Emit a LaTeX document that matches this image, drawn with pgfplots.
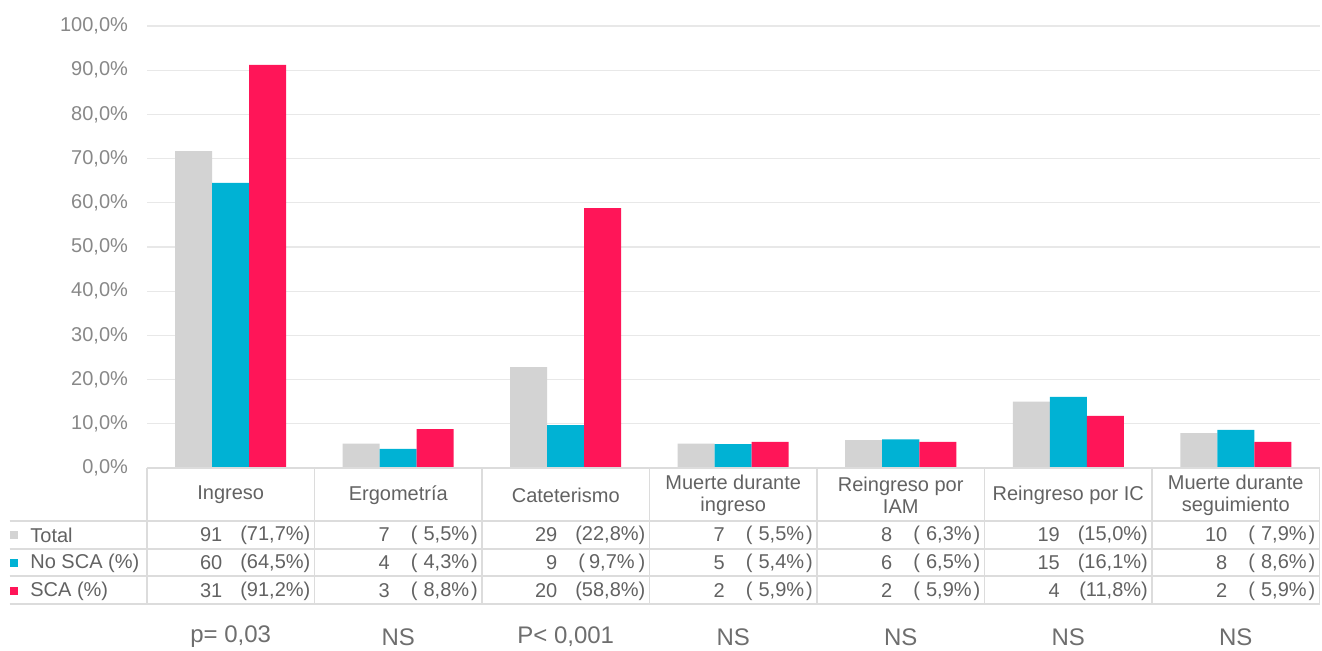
\documentclass[border=0pt]{standalone}
\usepackage{pgfplots}
\pgfplotsset{compat=1.18}
\usepackage{fontspec}
\setmainfont{Liberation Sans}
\definecolor{cgray}{HTML}{D3D3D3}
\definecolor{ccyan}{HTML}{00B2D4}
\definecolor{cred}{HTML}{FF1558}
\definecolor{gridc}{HTML}{E8E8E8}
\definecolor{linec}{HTML}{DCDCDC}
\definecolor{tickc}{HTML}{888888}
\definecolor{textc}{HTML}{626262}
\definecolor{pc}{HTML}{6E6E6E}
% cell: x, y, count, percent
\newcommand\cell[4]{%
  \node[anchor=east,inner sep=0pt,textc] at ([xshift=-4pt]axis cs:#1,#2) {#3};%
  \node[anchor=east,inner sep=0pt,textc] at ([xshift=40pt]axis cs:#1,#2) {#4};%
}
\newcommand\opn{(\kern3pt}
\newcommand\hdr[2]{%
  \node[align=center,inner sep=0pt,textc,font=\fontsize{10}{11}\selectfont] at (axis cs:#1,-6.11) {#2};%
}
\newcommand\pval[2]{%
  \node[inner sep=0pt,pc,font=\fontsize{12}{14}\selectfont] at (axis cs:#1,-38.24) {#2};%
}
\begin{document}
\begin{tikzpicture}[font=\fontsize{10}{12}\selectfont]
\begin{axis}[
  x=83.75pt, y=2.21pt,
  xmin=-0.5, xmax=6.5, ymin=0, ymax=100,
  ybar=0pt, bar width=18.5pt,
  axis line style={draw=none},
  xtick=\empty,
  ytick={0,10,...,100},
  major tick length=0pt,
  ymajorgrids, grid style={gridc, line width=0.6pt},
  /pgf/number format/assume math mode=true,
  yticklabel={\pgfmathprintnumber[fixed,fixed zerofill,precision=1,use comma]{\tick}\%},
  yticklabel style={tickc, xshift=-6pt},
  clip=false,
]
\addplot[fill=cgray, draw=none] coordinates {(0,71.7) (1,5.5) (2,22.8) (3,5.5) (4,6.3) (5,15.0) (6,7.9)};
\addplot[fill=ccyan, draw=none] coordinates {(0,64.5) (1,4.3) (2,9.7) (3,5.4) (4,6.5) (5,16.1) (6,8.6)};
\addplot[fill=cred, draw=none] coordinates {(0,91.2) (1,8.8) (2,58.8) (3,5.9) (4,5.9) (5,11.8) (6,5.9)};

% table lines
\draw[linec, line width=0.6pt] (axis cs:-0.5,0) -- (axis cs:6.5,0);
\pgfplotsinvokeforeach{-11.99,-18.33,-24.43,-30.77}{
  \draw[linec, line width=0.6pt] (axis cs:-1.32,#1) -- (axis cs:6.5,#1);
}
\pgfplotsinvokeforeach{-0.5,0.5,1.5,2.5,3.5,4.5,5.5,6.5}{
  \draw[linec, line width=0.6pt] (axis cs:#1,0) -- (axis cs:#1,-30.77);
}

% headers
\hdr{0}{Ingreso}
\hdr{1}{Ergometría}
\hdr{2}{Cateterismo}
\hdr{3}{Muerte durante\\ingreso}
\hdr{4}{Reingreso por\\IAM}
\hdr{5}{Reingreso por IC}
\hdr{6}{Muerte durante\\seguimiento}

% legend column
\node[fill=cgray,minimum size=4pt,inner sep=0pt] at (axis cs:-1.294,-15.16) {};
\node[fill=ccyan,minimum size=4pt,inner sep=0pt] at (axis cs:-1.294,-21.49) {};
\node[fill=cred,minimum size=4pt,inner sep=0pt] at (axis cs:-1.294,-27.83) {};
\node[anchor=west,inner sep=0pt,textc] at (axis cs:-1.1985,-15.16) {Total};
\node[anchor=west,inner sep=0pt,textc] at (axis cs:-1.1985,-21.49) {No SCA (\%)};
\node[anchor=west,inner sep=0pt,textc] at (axis cs:-1.1985,-27.83) {SCA (\%)};

% Total row
\cell{0}{-15.16}{91}{(71,7\%)}
\cell{1}{-15.16}{7}{\opn 5,5\%\kern1pt)}
\cell{2}{-15.16}{29}{(22,8\%)}
\cell{3}{-15.16}{7}{\opn 5,5\%\kern1pt)}
\cell{4}{-15.16}{8}{\opn 6,3\%\kern1pt)}
\cell{5}{-15.16}{19}{(15,0\%)}
\cell{6}{-15.16}{10}{\opn 7,9\%\kern1pt)}
% No SCA row
\cell{0}{-21.49}{60}{(64,5\%)}
\cell{1}{-21.49}{4}{\opn 4,3\%\kern1pt)}
\cell{2}{-21.49}{9}{(\kern2pt 9,7\%\kern2pt)}
\cell{3}{-21.49}{5}{\opn 5,4\%\kern1pt)}
\cell{4}{-21.49}{6}{\opn 6,5\%\kern1pt)}
\cell{5}{-21.49}{15}{(16,1\%)}
\cell{6}{-21.49}{8}{\opn 8,6\%\kern1pt)}
% SCA row
\cell{0}{-27.83}{31}{(91,2\%)}
\cell{1}{-27.83}{3}{\opn 8,8\%\kern1pt)}
\cell{2}{-27.83}{20}{(58,8\%)}
\cell{3}{-27.83}{2}{\opn 5,9\%\kern1pt)}
\cell{4}{-27.83}{2}{\opn 5,9\%\kern1pt)}
\cell{5}{-27.83}{4}{(11,8\%)}
\cell{6}{-27.83}{2}{\opn 5,9\%\kern1pt)}

% p values
\pval{0}{p= 0,03}
\pval{1}{NS}
\pval{2}{P< 0,001}
\pval{3}{NS}
\pval{4}{NS}
\pval{5}{NS}
\pval{6}{NS}

\coordinate (tl) at (axis cs:-1.3776,105.88);
\coordinate (br) at (axis cs:6.515,-41.18);
\end{axis}
\path (tl) rectangle (br);
\end{tikzpicture}
\end{document}
